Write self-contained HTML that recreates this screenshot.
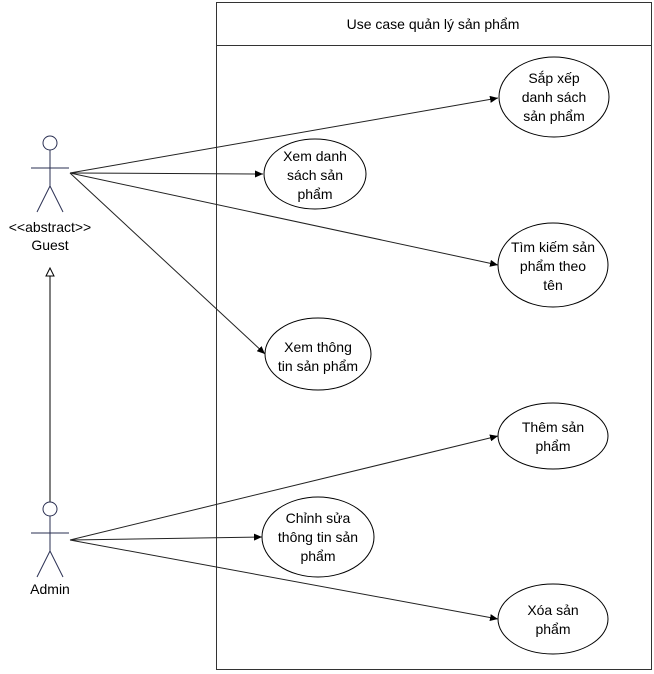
<!DOCTYPE html>
<html><head><meta charset="utf-8"><style>body{margin:0;background:#fff}svg{display:block}text{font-family:"Liberation Sans",Arial,sans-serif;font-size:14px;fill:#000}</style></head><body>
<svg width="654" height="674" viewBox="0 0 654 674">
<defs><marker id="a" markerWidth="9" markerHeight="7" refX="8" refY="3.5" orient="auto" markerUnits="userSpaceOnUse"><path d="M0,0 L8,3.5 L0,7 Z" fill="#000"/></marker></defs>
<rect x="216.5" y="2.5" width="435" height="667" fill="none" stroke="#333"/>
<line x1="216" y1="45.5" x2="652" y2="45.5" stroke="#333"/>
<text x="433" y="29" text-anchor="middle">Use case quản lý sản phẩm</text>
<g fill="none" stroke="#000">
<ellipse cx="554" cy="97" rx="55" ry="40"/>
<ellipse cx="315" cy="174" rx="51" ry="35"/>
<ellipse cx="553" cy="265" rx="55" ry="42"/>
<ellipse cx="318" cy="354" rx="53" ry="36"/>
<ellipse cx="553" cy="436" rx="55" ry="33"/>
<ellipse cx="318" cy="537" rx="56" ry="40"/>
<ellipse cx="553" cy="619" rx="55" ry="35"/>
</g>
<g stroke="#222" stroke-width="1" marker-end="url(#a)">
<line x1="70" y1="173" x2="498" y2="98"/>
<line x1="70" y1="173" x2="263" y2="174"/>
<line x1="70" y1="173" x2="265" y2="354"/>
<line x1="70" y1="173" x2="498" y2="265"/>
<line x1="70" y1="540" x2="498" y2="436"/>
<line x1="70" y1="540" x2="262" y2="537"/>
<line x1="70" y1="540" x2="498" y2="619"/>
</g>
<line x1="50" y1="502" x2="50" y2="276" stroke="#000"/>
<path d="M46,276 L50,268 L54,276 Z" fill="#fff" stroke="#000"/>
<g fill="none" stroke="#2a2f52" stroke-width="1">
<circle cx="50" cy="143" r="7"/>
<line x1="50" y1="150" x2="50" y2="186"/><line x1="31" y1="168" x2="69" y2="168"/>
<line x1="50" y1="186" x2="37" y2="212"/><line x1="50" y1="186" x2="63" y2="212"/>
<circle cx="50" cy="509" r="7"/>
<line x1="50" y1="516" x2="50" y2="551"/><line x1="31" y1="533" x2="69" y2="533"/>
<line x1="50" y1="551" x2="37" y2="577"/><line x1="50" y1="551" x2="63" y2="577"/>
</g>
<text x="50" y="232" text-anchor="middle">&lt;&lt;abstract&gt;&gt;</text>
<text x="50" y="250" text-anchor="middle">Guest</text>
<text x="50" y="594" text-anchor="middle">Admin</text>
<g text-anchor="middle">
<text x="554" y="83">Sắp xếp</text><text x="554" y="102">danh sách</text><text x="554" y="121">sản phẩm</text>
<text x="315" y="161">Xem danh</text><text x="315" y="180">sách sản</text><text x="315" y="199">phẩm</text>
<text x="553" y="252">Tìm kiếm sản</text><text x="553" y="271">phẩm theo</text><text x="553" y="290">tên</text>
<text x="318" y="352">Xem thông</text><text x="318" y="371">tin sản phẩm</text>
<text x="553" y="432">Thêm sản</text><text x="553" y="451">phẩm</text>
<text x="318" y="523">Chỉnh sửa</text><text x="318" y="542">thông tin sản</text><text x="318" y="561">phẩm</text>
<text x="553" y="615">Xóa sản</text><text x="553" y="634">phẩm</text>
</g>
</svg>
</body></html>
